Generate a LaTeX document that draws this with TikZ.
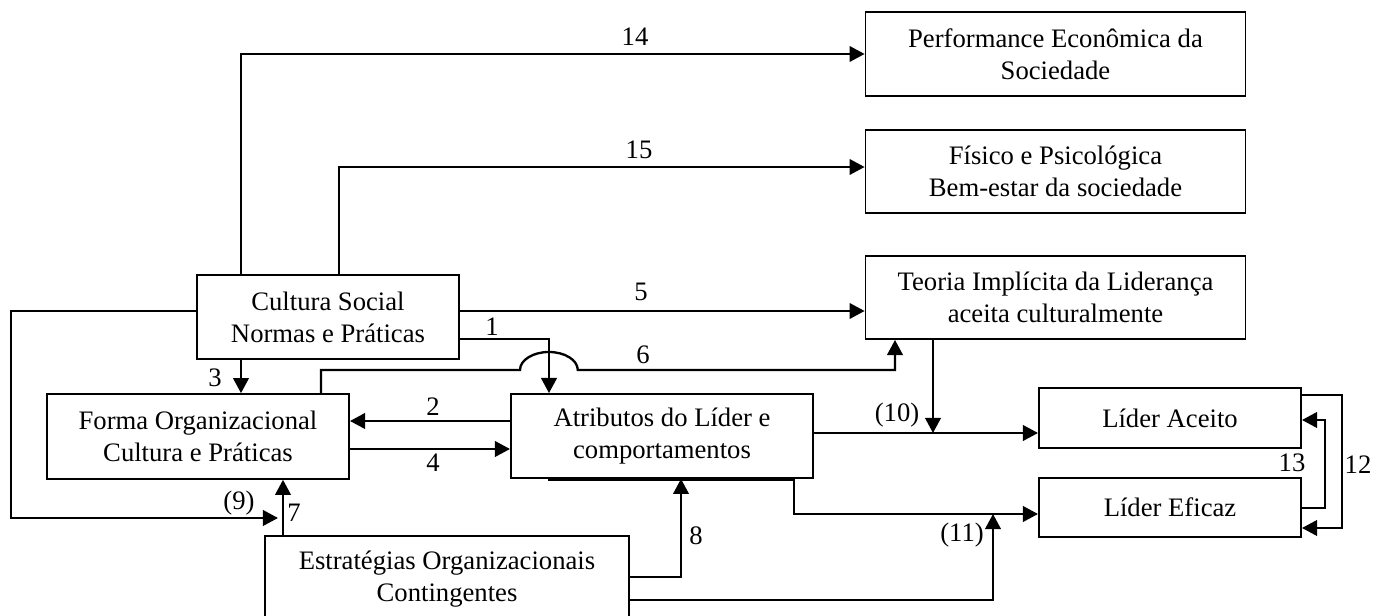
\documentclass[tikz,border=0pt]{standalone}
\usepackage{fontspec}
\setmainfont{Liberation Serif}
\usetikzlibrary{arrows.meta}

\begin{document}
\begin{tikzpicture}[x=0.45pt, y=-0.45pt,
        box/.style={draw, line width=0.8pt, align=center, inner sep=0pt, font=\fontsize{12pt}{14.4pt}\selectfont},
        arr/.style={line width=1.05pt, -{Triangle[length=6.8pt, width=7pt]}},
        lbl/.style={inner sep=0pt, font=\fontsize{12pt}{14.4pt}\selectfont}]
        \useasboundingbox (0,0) rectangle (1385,616);
        \node[box, minimum width=171pt, minimum height=37.8pt] (perf) at (1055.5,54) {Performance Econômica da\\Sociedade};
        \node[box, minimum width=171pt, minimum height=37.4pt] (fisico) at (1055.5,171.5) {Físico e Psicológica\\Bem-estar da sociedade};
        \node[box, minimum width=171pt, minimum height=37.4pt] (teoria) at (1055.5,297.5) {Teoria Implícita da Liderança\\aceita culturalmente};
        \node[box, minimum width=118pt, minimum height=37.8pt] (cultura) at (328,317) {Cultura Social\\Normas e Práticas};
        \node[box, minimum width=136pt, minimum height=38.2pt] (forma) at (198,436.5) {Forma Organizacional\\Cultura e Práticas};
        \node[box, minimum width=136pt, minimum height=37.8pt] (atrib) at (662,436) {Atributos do Líder e\\comportamentos};
        \node[box, minimum width=118pt, minimum height=27pt] (aceito) at (1170,418) {Líder Aceito};
        \node[box, minimum width=118pt, minimum height=26.5pt] (eficaz) at (1170,507.5) {Líder Eficaz};
        \node[box, minimum width=164pt, minimum height=38.7pt] (estrat) at (447,579) {Estratégias Organizacionais\\Contingentes};
        \draw[arr] (cultura.north -| 241,0) |- (perf.west);
        \draw[arr] (cultura.north -| 339,0) |- (fisico.west |- 0,167);
        \draw[arr] (cultura.east |- 0,311) -- (teoria.west |- 0,311);
        \draw[arr] (cultura.east |- 0,339) -| (atrib.north -| 549,0);
        \draw[arr] (forma.north -| 321,0) |- (520,370) arc[start angle=180, end angle=0, x radius=13pt, y radius=8.1pt] -| (teoria.south -| 895,0);
        \draw[arr] (cultura.south -| 241,0) -- (forma.north -| 241,0);
        \draw[arr] (atrib.west |- 0,421) -- (forma.east |- 0,421);
        \draw[arr] (forma.east |- 0,449) -- (atrib.west |- 0,449);
        \draw[arr] (estrat.north -| 283,0) -- (forma.south -| 283,0);
        \coordinate (nineend) at (278,518);
        \draw[arr] (cultura.west |- 0,311) -| (11,518) -- (nineend);
        \draw[arr] (estrat.east |- 0,577) -| (atrib.south -| 681,0);
        \draw[arr] (atrib.east |- 0,433) -- (aceito.west |- 0,433);
        \coordinate (tenend) at (933,433);
        \draw[arr] (teoria.south -| 933,0) -- (tenend);
        \coordinate (elevenstart) at (548,479.5);
        \draw[arr] (elevenstart) -- (794,479.5) |- (eficaz.west |- 0,514);
        \coordinate (elevenend) at (993,514);
        \draw[arr] (estrat.east |- 0,600) -| (elevenend);
        \draw[arr] (eficaz.east |- 0,508) -| (1325,420) -- (aceito.east |- 0,420);
        \draw[arr] (aceito.east |- 0,395) -| (1342,528) -- (eficaz.east |- 0,528);
        \node[lbl] (l14) at (635,37) {14};
        \node[lbl] (l15) at (639,150) {15};
        \node[lbl] (l5) at (641,292) {5};
        \node[lbl] (l1) at (492,327) {1};
        \node[lbl] (l6) at (643,355) {6};
        \node[lbl] (l3) at (215,378) {3};
        \node[lbl] (l2) at (433,407) {2};
        \node[lbl] (l4) at (433,463) {4};
        \node[lbl] (l9) at (239,503) {(9)};
        \node[lbl] (l7) at (294,513) {7};
        \node[lbl] (l8) at (696,536) {8};
        \node[lbl] (l10) at (897,415) {(10)};
        \node[lbl] (l11) at (962,535) {(11)};
        \node[lbl] (l13) at (1292,463) {13};
        \node[lbl] (l12) at (1358,465) {12};
\end{tikzpicture}
\end{document}
